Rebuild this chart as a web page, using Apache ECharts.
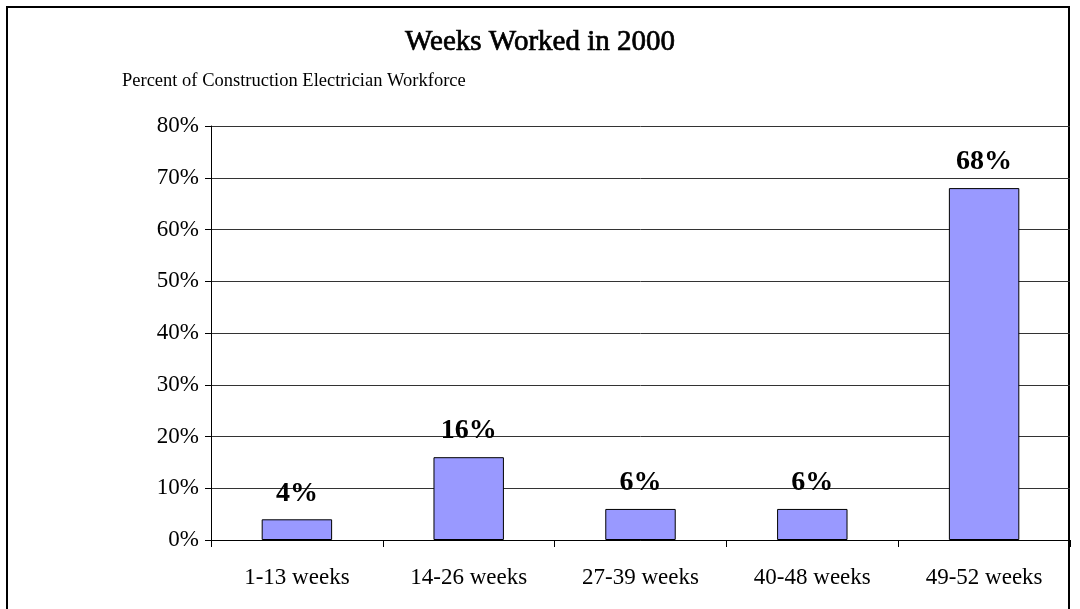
<!DOCTYPE html>
<html>
<head>
<meta charset="utf-8">
<title>Weeks Worked in 2000</title>
<script src="https://cdn.jsdelivr.net/npm/echarts@6/dist/echarts.min.js"></script>
<style>
  html, body { margin: 0; padding: 0; background: #fff; }
  #chart { width: 1080px; height: 609px; }
</style>
</head>
<body>
<div id="chart"></div>
<script>
// Share of construction electricians by weeks worked during the year
const categories = ['1-13 weeks', '14-26 weeks', '27-39 weeks', '40-48 weeks', '49-52 weeks'];
const percentWorkforce = [4, 16, 6, 6, 68];
const yTicks = [0, 10, 20, 30, 40, 50, 60, 70, 80];

const serif = '"Liberation Serif", "Times New Roman", serif';
const chart = echarts.init(document.getElementById('chart'));

chart.setOption({
  backgroundColor: '#fff',
  animation: false,
  graphic: [{
    type: 'rect',
    shape: { x: 7, y: 7, width: 1062, height: 620 },
    style: { fill: 'none', stroke: '#000', lineWidth: 2 },
    silent: true
  }],
  title: [{
    text: 'Weeks Worked in 2000',
    left: 'center',
    top: 23,
    textStyle: { fontFamily: serif, fontSize: 29, fontWeight: 'normal', color: '#000',
                 textBorderColor: '#000', textBorderWidth: 0.7 }
  }, {
    text: 'Percent of Construction Electrician Workforce',
    left: 117,
    top: 67,
    textStyle: { fontFamily: serif, fontSize: 18.5, fontWeight: 'normal', color: '#000' }
  }],
  grid: { left: 211, top: 126, right: 10, bottom: 69, containLabel: false },
  xAxis: {
    type: 'category',
    data: categories,
    boundaryGap: true,
    axisLine: { lineStyle: { color: '#000', width: 1 } },
    axisTick: { show: true, length: 7, alignWithLabel: false, lineStyle: { color: '#000' } },
    axisLabel: { fontFamily: serif, fontSize: 23, color: '#000', margin: 26 },
    splitLine: { show: false }
  },
  yAxis: {
    type: 'value',
    min: yTicks[0],
    max: yTicks[yTicks.length - 1],
    interval: yTicks[1] - yTicks[0],
    axisLine: { show: true, lineStyle: { color: '#000', width: 1 } },
    axisTick: { show: true, length: 6, lineStyle: { color: '#000' } },
    axisLabel: { fontFamily: serif, fontSize: 23, color: '#000', margin: 12, formatter: '{value}%' },
    splitLine: { show: true, lineStyle: { color: '#333', width: 1 } }
  },
  series: [{
    type: 'bar',
    data: percentWorkforce,
    barWidth: '41%',
    itemStyle: { color: '#9999FF', borderColor: '#000', borderWidth: 1 },
    label: {
      show: true,
      position: 'top',
      distance: 12,
      formatter: '{c}%',
      fontFamily: serif,
      fontSize: 28,
      fontWeight: 'bold',
      color: '#000'
    }
  }]
});
</script>
</body>
</html>
